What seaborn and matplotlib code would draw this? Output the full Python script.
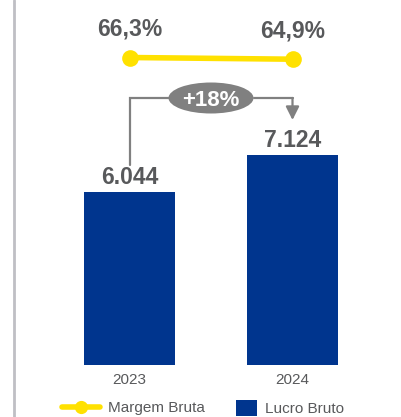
import matplotlib
matplotlib.use("Agg")
import matplotlib.pyplot as plt
import matplotlib.transforms as mtransforms
from matplotlib.patches import Ellipse, Patch
from matplotlib.lines import Line2D
import seaborn as sns
import pandas as pd

# ---- data ----
years = ["2023", "2024"]
lucro_bruto = [6044, 7124]
margem_bruta = [66.3, 64.9]
lucro_labels = ["6.044", "7.124"]
margem_labels = ["66,3%", "64,9%"]
growth_label = "+18%"
legend_labels = ["Margem Bruta", "Lucro Bruto"]

# ---- style ----
BLUE = "#00358E"
YELLOW = "#FFE100"
GRAY = "#808080"
TEXT = "#58595B"
FRAME = "#BFBFC4"

sns.set_style("white")
plt.rcParams["font.family"] = ["Liberation Sans", "DejaVu Sans"]

W, H = 401, 417
fig = plt.figure(figsize=(W / 100, H / 100), dpi=100)
AX_H = 365  # pixels from top of figure to bar baseline
ax = fig.add_axes([48 / W, (H - AX_H) / H, 326 / W, AX_H / H])

df = pd.DataFrame({"year": years, "lucro": lucro_bruto})
sns.barplot(data=df, x="year", y="lucro", color=BLUE, saturation=1,
            width=0.558, linewidth=0, ax=ax)
ax.set_xlim(-0.5, 1.5)
y0 = 1000
ax.set_ylim(y0, y0 + AX_H / 0.03429)

for i, (v, lbl) in enumerate(zip(lucro_bruto, lucro_labels)):
    ax.annotate(lbl, (i, v), xytext=(0, 8), textcoords="offset pixels",
                ha="center", va="baseline", fontsize=16.5, fontweight="bold",
                color=TEXT, annotation_clip=False)

ax.set_xticks([0, 1])
ax.set_xticklabels(years)
ax.tick_params(axis="x", length=0, pad=5.8, labelsize=11, labelcolor=TEXT)
ax.set_yticks([])
ax.set_xlabel("")
ax.set_ylabel("")
for s in ax.spines.values():
    s.set_visible(False)

# ---- margin line on twin axis ----
ax2 = ax.twinx()
sns.lineplot(x=[0, 1], y=margem_bruta, color=YELLOW, lw=4, marker="o",
             markersize=12, markeredgewidth=0, ax=ax2)
rng = 300
lo = margem_bruta[0] - (AX_H - 57.5) / AX_H * rng
ax2.set_ylim(lo, lo + rng)
ax2.set_xlim(-0.5, 1.5)
ax2.set_yticks([])
ax2.set_ylabel("")
for s in ax2.spines.values():
    s.set_visible(False)
for i, (v, lbl) in enumerate(zip(margem_bruta, margem_labels)):
    ax2.annotate(lbl, (i, v), xytext=(0, 22), textcoords="offset pixels",
                 ha="center", va="baseline", fontsize=16.5, fontweight="bold",
                 color=TEXT, annotation_clip=False)

# ---- growth bracket ----
trans = mtransforms.blended_transform_factory(ax.transData, ax.transAxes)
yt = (AX_H - 98) / AX_H
yb = (AX_H - 165) / AX_H
ytip = (AX_H - 120) / AX_H
ell_w = 85 / 163
ax.plot([0, 0, 0.5 - ell_w / 2], [yb, yt, yt], transform=trans, color=GRAY,
        lw=1.6, clip_on=False, solid_joinstyle="miter")
ax.plot([0.5 + ell_w / 2, 1], [yt, yt], transform=trans, color=GRAY,
        lw=1.6, clip_on=False)
ax.annotate("", xy=(1, ytip), xytext=(1, yt), xycoords=trans, textcoords=trans,
            arrowprops=dict(arrowstyle="-|>,head_length=0.8,head_width=0.4",
                            mutation_scale=10, color=GRAY, lw=1.6,
                            shrinkA=0, shrinkB=0), annotation_clip=False)
ax.add_patch(Ellipse((0.5, yt), width=ell_w, height=31 / AX_H, transform=trans,
                     facecolor=GRAY, edgecolor="none", clip_on=False, zorder=5))
ax.annotate(growth_label, (0.5, yt), xycoords=trans, xytext=(0, -7.5),
            textcoords="offset pixels", ha="center", va="baseline",
            fontsize=16, fontweight="bold", color="white", zorder=6,
            annotation_clip=False)

# ---- left frame line ----
fig.add_artist(Line2D([14 / W, 14 / W], [0, 1], transform=fig.transFigure,
                      color=FRAME, lw=2))

# ---- legends ----
leg_y = 1 - 408 / H
fs = 11
fpx = fs * 100 / 72
h1 = Line2D([], [], color=YELLOW, lw=4, marker="o", markersize=9.5,
            markeredgewidth=0)
leg1 = fig.legend(handles=[h1], labels=[legend_labels[0]], loc="center left",
                  bbox_to_anchor=(62 / W, leg_y), frameon=False, borderpad=0,
                  borderaxespad=0, handlelength=38 / fpx,
                  handletextpad=8 / fpx, fontsize=fs, labelcolor=TEXT)
h2 = Patch(facecolor=BLUE, edgecolor="none")
leg2 = fig.legend(handles=[h2], labels=[legend_labels[1]], loc="center left",
                  bbox_to_anchor=(236 / W, leg_y), frameon=False, borderpad=0,
                  borderaxespad=0, handlelength=21 / fpx, handleheight=19 / fpx,
                  handletextpad=8 / fpx, fontsize=fs, labelcolor=TEXT)

fig.savefig("out.png", dpi=100)
